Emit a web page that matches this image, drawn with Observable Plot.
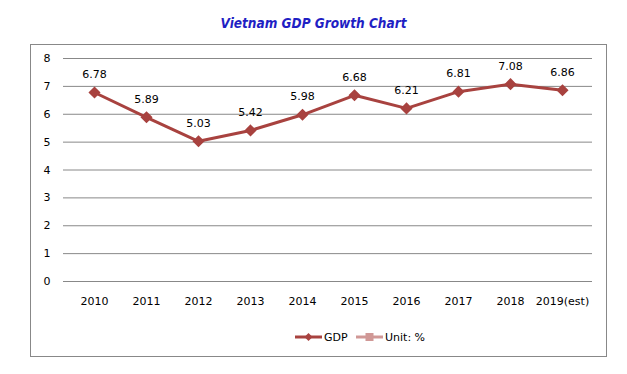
<!DOCTYPE html>
<html>
<head>
<meta charset="utf-8">
<script src="https://cdn.jsdelivr.net/npm/d3@7"></script>
<script src="https://cdn.jsdelivr.net/npm/@observablehq/plot@0.6"></script>
<style>
  body { margin: 0; background: #fff; }
  #wrap { position: relative; width: 627px; height: 374px; overflow: hidden; font-family: "DejaVu Sans", sans-serif; }
  #title { position: absolute; left: 0; width: 627px; top: 15px; text-align: center; font: italic bold 13.5px "DejaVu Sans Condensed", "DejaVu Sans", sans-serif; color: #1f1fc4; }
  #frame { position: absolute; left: 30px; top: 44px; width: 575px; height: 311px; border: 1px solid #888; box-sizing: content-box; }
  #chart { position: absolute; left: 0; top: 0; }
  #legend { position: absolute; top: 329px; left: 0; width: 627px; font: 11px "DejaVu Sans", sans-serif; color: #000; }
  .item { position: absolute; display: flex; align-items: center; height: 16px; }
  .item svg { margin-right: 2px; }
</style>
</head>
<body>
<div id="wrap">
  <div id="frame"></div>
  <div id="title">Vietnam GDP Growth Chart</div>
  <div id="chart"></div>
  <div id="legend"></div>
</div>
<script>
const years = ["2010","2011","2012","2013","2014","2015","2016","2017","2018","2019(est)"];
const gdp = [6.78, 5.89, 5.03, 5.42, 5.98, 6.68, 6.21, 6.81, 7.08, 6.86];
const yTicks = [0,1,2,3,4,5,6,7,8];
const seriesName = "GDP";
const unitLabel = "Unit: %";
const lineColor = "#a8423f";
const unitColor = "#d09896";

const data = years.map((y, i) => ({year: y, value: gdp[i]}));

const chart = Plot.plot({
  width: 627,
  height: 374,
  marginLeft: 63,
  marginRight: 35,
  marginTop: 58,
  marginBottom: 93,
  style: {background: "transparent", fontFamily: "DejaVu Sans, sans-serif", fontSize: "11px", color: "#000"},
  x: {type: "point", domain: years, padding: 0.5, label: null, tickSize: 0, tickPadding: 16},
  y: {domain: [0, 8], ticks: yTicks, label: null, tickSize: 0, tickPadding: 13, tickFormat: d3.format("d")},
  marks: [
    Plot.gridY(yTicks, {stroke: "#888", strokeOpacity: 1, strokeWidth: 1}),
    Plot.line(data, {x: "year", y: "value", stroke: lineColor, strokeWidth: 3}),
    Plot.dot(data, {x: "year", y: "value", symbol: "diamond2", r: 4.5, fill: lineColor, stroke: lineColor}),
    Plot.text(data, {x: "year", y: "value", text: d => d.value.toFixed(2), dy: -18, fill: "#000", fontSize: 11})
  ]
});
document.getElementById("chart").appendChild(chart);

const legend = document.getElementById("legend");
function addItem(left, label, kind, color) {
  const div = document.createElement("div");
  div.className = "item";
  div.style.left = left + "px";
  const ns = "http://www.w3.org/2000/svg";
  const s = document.createElementNS(ns, "svg");
  s.setAttribute("width", 27); s.setAttribute("height", 16);
  const l = document.createElementNS(ns, "line");
  l.setAttribute("x1", 0); l.setAttribute("x2", 27); l.setAttribute("y1", 8); l.setAttribute("y2", 8);
  l.setAttribute("stroke", color); l.setAttribute("stroke-width", 3);
  s.appendChild(l);
  if (kind === "diamond") {
    const p = document.createElementNS(ns, "path");
    p.setAttribute("d", "M13.5,4 L17.5,8 L13.5,12 L9.5,8 Z");
    p.setAttribute("fill", color);
    s.appendChild(p);
  } else {
    const r = document.createElementNS(ns, "rect");
    r.setAttribute("x", 9.5); r.setAttribute("y", 4); r.setAttribute("width", 8); r.setAttribute("height", 8);
    r.setAttribute("fill", color);
    s.appendChild(r);
  }
  div.appendChild(s);
  const t = document.createElement("span");
  t.textContent = label;
  div.appendChild(t);
  legend.appendChild(div);
}
addItem(295, seriesName, "diamond", lineColor);
addItem(356, unitLabel, "square", unitColor);
</script>
</body>
</html>
